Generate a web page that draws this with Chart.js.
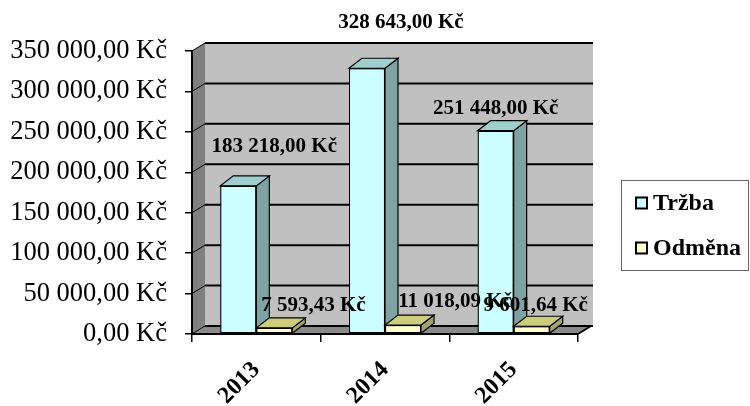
<!DOCTYPE html>
<html><head><meta charset="utf-8">
<script src="https://cdn.jsdelivr.net/npm/chart.js@4/dist/chart.umd.min.js"></script>
<style>html,body{margin:0;padding:0;background:#fff}#wrap{width:750px;height:406px;position:relative}</style>
</head><body><div id="wrap"><canvas id="c"></canvas></div>
<script>
const categories = ['2013', '2014', '2015'];
const trzba = [183218.00, 328643.00, 251448.00];
const odmena = [7593.43, 11018.09, 9601.64];
const seriesNames = ['Tržba', 'Odměna'];
const yMin = 0, yMax = 350000, yStep = 50000;

// style: per-label offsets (px) from the top-centre of each bar front face
const labelOffsets = [
  [[36, -39], [34, -46], [0, -22]],
  [[39, -22], [52, -24], [4, -21]]
];
const frontColors = ['#ccffff', '#ffffcc'];
const topColors = ['#9fcece', '#cccc7a'];
const sideColors = ['#7fa3a3', '#a3a36c'];

function fmtKc(v) {
  const s = Math.abs(v).toFixed(2);
  const parts = s.split('.');
  return parts[0].replace(/\B(?=(\d{3})+(?!\d))/g, ' ') + ',' + parts[1] + ' Kč';
}

const WALL_DX = 13, WALL_DY = -8;
const BAR_DX = 13, BAR_DY = -10;

const threeD = {
  id: 'threeD',
  beforeDraw(chart) {
    const ctx = chart.ctx, a = chart.chartArea, ys = chart.scales.y;
    const L = a.left, R = a.right, T = a.top, B = a.bottom;
    ctx.save();
    ctx.fillStyle = '#808080';
    ctx.beginPath();
    ctx.moveTo(L, B); ctx.lineTo(L, T); ctx.lineTo(L + WALL_DX, T + WALL_DY); ctx.lineTo(L + WALL_DX, B + WALL_DY);
    ctx.closePath(); ctx.fill();
    ctx.fillStyle = '#c0c0c0';
    ctx.fillRect(L + WALL_DX, T + WALL_DY, R - L + 2, B - T);
    ctx.fillStyle = '#8a8a8a';
    ctx.beginPath();
    ctx.moveTo(L, B); ctx.lineTo(R, B); ctx.lineTo(R + WALL_DX, B + WALL_DY); ctx.lineTo(L + WALL_DX, B + WALL_DY);
    ctx.closePath(); ctx.fill();
    ctx.strokeStyle = '#000';
    ys.ticks.forEach(t => {
      const y = ys.getPixelForValue(t.value);
      ctx.lineWidth = 2;
      ctx.beginPath();
      ctx.moveTo(L + WALL_DX, y + WALL_DY); ctx.lineTo(R + WALL_DX + 2, y + WALL_DY);
      ctx.stroke();
      ctx.lineWidth = 1;
      ctx.beginPath();
      ctx.moveTo(L, y); ctx.lineTo(L + WALL_DX, y + WALL_DY);
      ctx.stroke();
    });
    ctx.lineWidth = 1.5;
    ctx.beginPath();
    ctx.moveTo(R, B); ctx.lineTo(R + WALL_DX, B + WALL_DY);
    ctx.stroke();
    ctx.restore();
  },
  afterDatasetsDraw(chart) {
    const ctx = chart.ctx;
    const n = chart.data.labels.length;
    ctx.save();
    for (let j = 0; j < n; j++) {
      chart.data.datasets.forEach((ds, i) => {
        const el = chart.getDatasetMeta(i).data[j];
        const p = el.getProps(['x', 'y', 'base', 'width'], true);
        const l = p.x - p.width / 2, r = p.x + p.width / 2, t = Math.min(p.y, p.base), b = Math.max(p.y, p.base);
        ctx.lineWidth = 1.2;
        ctx.strokeStyle = '#000';
        ctx.fillStyle = sideColors[i];
        ctx.beginPath();
        ctx.moveTo(r, t); ctx.lineTo(r + BAR_DX, t + BAR_DY); ctx.lineTo(r + BAR_DX, b + BAR_DY); ctx.lineTo(r, b);
        ctx.closePath(); ctx.fill(); ctx.stroke();
        ctx.fillStyle = topColors[i];
        ctx.beginPath();
        ctx.moveTo(l, t); ctx.lineTo(r, t); ctx.lineTo(r + BAR_DX, t + BAR_DY); ctx.lineTo(l + BAR_DX, t + BAR_DY);
        ctx.closePath(); ctx.fill(); ctx.stroke();
        el.draw(ctx);
      });
    }
    ctx.restore();
  },
  afterDraw(chart) {
    const ctx = chart.ctx;
    ctx.save();
    ctx.font = 'bold 21px "Liberation Serif", "Times New Roman", serif';
    ctx.fillStyle = '#000';
    ctx.textAlign = 'center';
    ctx.textBaseline = 'middle';
    chart.data.datasets.forEach((ds, i) => {
      chart.getDatasetMeta(i).data.forEach((el, j) => {
        const p = el.getProps(['x', 'y'], true);
        const off = labelOffsets[i][j];
        ctx.fillText(fmtKc(ds.data[j]), p.x + off[0], p.y + off[1]);
      });
    });
    const lx = 621.5, ly = 180.5, lw = 127, lh = 90;
    ctx.strokeStyle = '#666';
    ctx.lineWidth = 1;
    ctx.strokeRect(lx, ly, lw, lh);
    ctx.font = 'bold 24px "Liberation Serif", "Times New Roman", serif';
    ctx.textAlign = 'left';
    const rows = [203, 248];
    chart.data.datasets.forEach((ds, i) => {
      const cy = rows[i];
      ctx.fillStyle = ds.backgroundColor;
      ctx.fillRect(636, cy - 5.5, 11, 11);
      ctx.strokeStyle = '#000';
      ctx.lineWidth = 2;
      ctx.strokeRect(636, cy - 5.5, 11, 11);
      ctx.fillStyle = '#000';
      ctx.fillText(ds.label, 653, cy + 1);
    });
    ctx.restore();
  }
};

new Chart(document.getElementById('c'), {
  type: 'bar',
  data: {
    labels: categories,
    datasets: [
      { label: seriesNames[0], data: trzba, backgroundColor: frontColors[0], borderColor: '#000', borderWidth: 1.2, borderSkipped: false },
      { label: seriesNames[1], data: odmena, backgroundColor: frontColors[1], borderColor: '#000', borderWidth: 1.2, borderSkipped: false }
    ]
  },
  options: {
    responsive: true,
    maintainAspectRatio: false,
    animation: false,
    devicePixelRatio: 1,
    layout: { padding: { top: 51, right: 172, bottom: 0, left: 0 } },
    datasets: { bar: { categoryPercentage: 0.56, barPercentage: 1.0 } },
    plugins: { legend: { display: false }, tooltip: { enabled: false } },
    scales: {
      x: {
        afterFit(s) { s.height = 72; },
        grid: { display: true, drawOnChartArea: false, drawTicks: true, tickLength: 8, color: '#000', lineWidth: 1.5, offset: true },
        border: { display: true, color: '#000', width: 2 },
        ticks: {
          color: '#000', minRotation: 45, maxRotation: 45, padding: 14,
          font: { family: '"Liberation Serif", "Times New Roman", serif', size: 24, weight: 'bold' }
        }
      },
      y: {
        min: yMin, max: yMax,
        afterFit(s) { s.width = 192; },
        grid: { display: true, drawOnChartArea: false, drawTicks: true, tickLength: 7, color: '#000', lineWidth: 1.5 },
        border: { display: true, color: '#000', width: 2 },
        ticks: {
          stepSize: yStep, color: '#000', padding: 18,
          font: { family: '"Liberation Serif", "Times New Roman", serif', size: 26.5 },
          callback: v => fmtKc(v)
        }
      }
    }
  },
  plugins: [threeD]
});
</script>
</body></html>
